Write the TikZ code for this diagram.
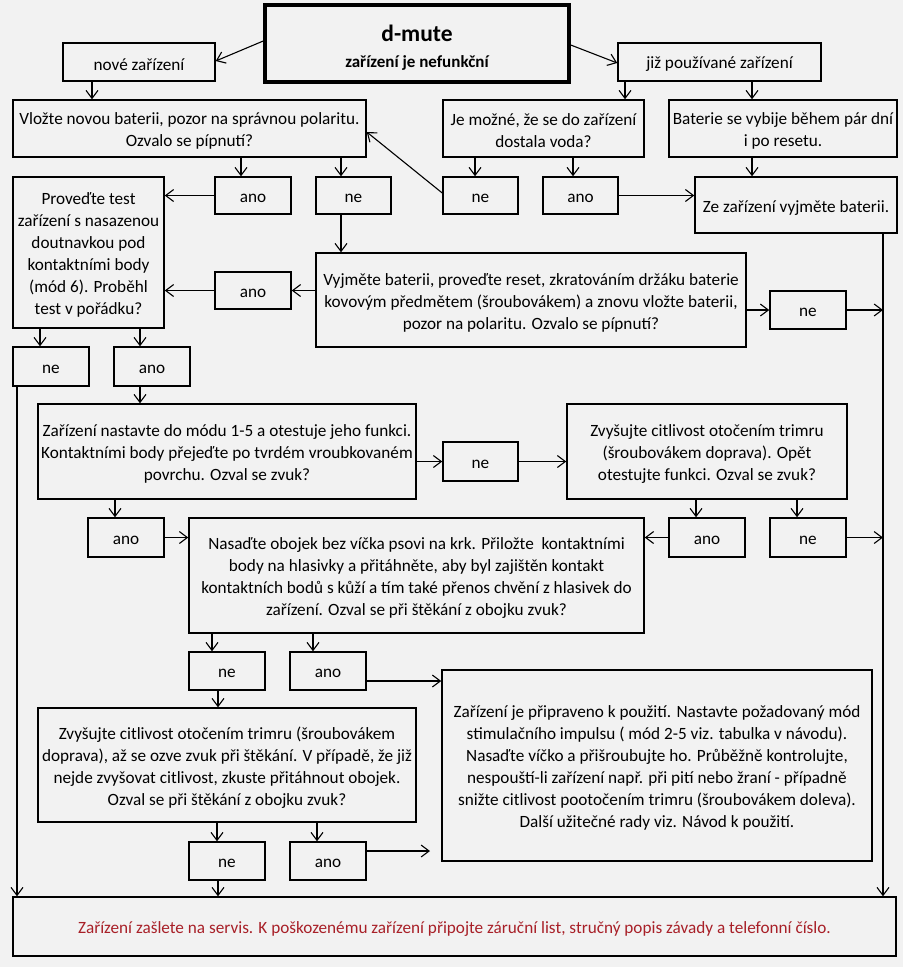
\documentclass[tikz,border=0pt]{standalone}
\usepackage{fontspec}
\setmainfont{Carlito}
\usetikzlibrary{arrows.meta,calc}
\definecolor{bg}{RGB}{242,242,242}
\definecolor{servisred}{RGB}{168,32,40}
\newcommand\bx[7][]{\node[box,#1,minimum width={(#5-#3)*1pt},minimum height={(#6-#4)*1pt}] (#2) at ({(#3+#5)/2},{(#4+#6)/2}) {};
  \node[boxtext] (#2t) at ([yshift=-2.5pt]#2.center) {#7};}
\newcommand\vconn[3]{\draw[arr] (#1.south -| #3,0) -- (#2.north -| #3,0);}
\begin{document}
\begin{tikzpicture}[x=1pt,y=-1pt,
  box/.style={draw, line width=1.5pt, inner sep=0pt},
  boxtext/.style={inner sep=0pt, align=center, font=\fontsize{17.2}{22}\selectfont},
  arr/.style={line width=1.1pt, -{Straight Barb[length=8pt,width=12pt,line width=1.1pt]}}]
\fill[bg] (0,0) rectangle (903,967);
\useasboundingbox (0,0) rectangle (903,967);

\node[box, line width=3.5pt, minimum width=304pt, minimum height=77pt] (title) at (417,43.5) {};
\node[boxtext] (titlet) at ([yshift=-4pt]title.center) {{\fontsize{23.5}{27}\selectfont\bfseries d-mute}\\[4pt]{\fontsize{17}{20}\selectfont\bfseries zařízení je nefunkční}};
\bx{nove}{63}{43}{215}{81}{nové zařízení}
\bx{jiz}{618}{43}{821}{81}{již používané zařízení}
\bx{vlozte}{13}{100}{366}{157}{Vložte novou baterii, pozor na správnou polaritu.\\Ozvalo se pípnutí?}
\bx{jemozne}{443}{100}{644}{157}{Je možné, že se do zařízení\\dostala voda?}
\bx{baterie}{669}{100}{897}{157}{Baterie se vybije během pár dní\\i po resetu.}
\bx{ano1}{215}{177}{291}{214}{ano}
\bx{ne1}{316}{177}{391}{214}{ne}
\bx{ne2}{443}{177}{518}{214}{ne}
\bx{ano2}{543}{177}{618}{214}{ano}
\bx{ze}{695}{177}{897}{233}{Ze zařízení vyjměte baterii.}
\bx{proved}{13}{177}{164}{328}{Proveďte test\\zařízení s nasazenou\\doutnavkou pod\\kontaktními body\\(mód 6). Proběhl\\test v pořádku?}
\bx{vyjmete}{316}{253}{746}{347}{Vyjměte baterii, proveďte reset, zkratováním držáku baterie\\kovovým předmětem (šroubovákem) a znovu vložte baterii,\\pozor na polaritu. Ozvalo se pípnutí?}
\bx{ano3}{215}{272}{291}{309}{ano}
\bx{ne4}{770}{291}{846}{329}{ne}
\bx{ne3}{13}{347}{89}{386}{ne}
\bx{ano4}{114}{347}{190}{386}{ano}
\bx{nastavte}{38}{404}{416}{499}{Zařízení nastavte do módu 1-5 a otestuje jeho funkci.\\Kontaktními body přejeďte po tvrdém vroubkovaném\\povrchu. Ozval se zvuk?}
\bx{ne5}{443}{442}{518}{481}{ne}
\bx{zvys1}{567}{404}{847}{499}{Zvyšujte citlivost otočením trimru\\(šroubovákem doprava). Opět\\otestujte funkci. Ozval se zvuk?}
\bx{ano5}{88}{518}{164}{557}{ano}
\bx{nasadte}{189}{518}{644}{633}{Nasaďte obojek bez víčka psovi na krk. Přiložte \ kontaktními\\body na hlasivky a přitáhněte, aby byl zajištěn kontakt\\kontaktních bodů s kůží a tím také přenos chvění z hlasivek do\\zařízení. Ozval se při štěkání z obojku zvuk?}
\bx{ano6}{669}{518}{745}{557}{ano}
\bx{ne6}{770}{518}{846}{557}{ne}
\bx{ne7}{189}{652}{265}{690}{ne}
\bx{ano7}{290}{652}{366}{690}{ano}
\bx{pripr}{442}{670}{872}{861}{Zařízení je připraveno k použití. Nastavte požadovaný mód\\stimulačního impulsu ( mód 2-5 viz. tabulka v návodu).\\Nasaďte víčko a přišroubujte ho. Průběžně kontrolujte,\\nespouští-li zařízení např. při pití nebo žraní - případně\\snižte citlivost pootočením trimru (šroubovákem doleva).\\Další užitečné rady viz. Návod k použití.}
\bx{zvys2}{38}{708}{416}{822}{Zvyšujte citlivost otočením trimru (šroubovákem\\doprava), až se ozve zvuk při štěkání. V případě, že již\\nejde zvyšovat citlivost, zkuste přitáhnout obojek.\\Ozval se při štěkání z obojku zvuk?}
\bx{ne8}{189}{842}{265}{880}{ne}
\bx{ano8}{290}{842}{366}{880}{ano}
\bx{servis}{13}{897}{896}{956}{\color{servisred}Zařízení zašlete na servis. K poškozenému zařízení připojte záruční list, stručný popis závady a telefonní číslo.}

% connectors
\draw[arr] (title.west |- 0,41) -- (nove.east |- 0,61);
\draw[arr] (title.east |- 0,45) -- (jiz.west |- 0,63);
\vconn{nove}{vlozte}{92}
\vconn{jiz}{jemozne}{625}
\vconn{jiz}{baterie}{752}
\vconn{vlozte}{ano1}{241}
\vconn{vlozte}{ne1}{341}
\vconn{jemozne}{ne2}{475}
\vconn{jemozne}{ano2}{573}
\vconn{baterie}{ze}{752}
\vconn{ne1}{vyjmete}{341}
\vconn{proved}{ne3}{40}
\vconn{proved}{ano4}{140}
\vconn{ano4}{nastavte}{140}
\vconn{nastavte}{ano5}{115}
\vconn{zvys1}{ano6}{696}
\vconn{zvys1}{ne6}{797}
\vconn{nasadte}{ne7}{212}
\vconn{nasadte}{ano7}{313}
\vconn{ne7}{zvys2}{218}
\vconn{zvys2}{ne8}{217}
\vconn{zvys2}{ano8}{317}
\vconn{ne8}{servis}{218}
\vconn{ne3}{servis}{17}
\vconn{ze}{servis}{883}

\draw[arr] (ano1.west) -- (proved.east |- ano1.west);
\draw[arr] (ano2.east) -- (ze.west |- ano2.east);
\draw[arr] (ne2.west |- 0,193) -- (vlozte.east |- 0,132);
\draw[arr] (vyjmete.west |- ano3.east) -- (ano3.east);
\draw[arr] (ano3.west) -- (proved.east |- ano3.west);
\draw[arr] (vyjmete.east |- ne4.west) -- (ne4.west);
\draw[arr] (ne4.east) -- (ne4.east -| 883,0);
\draw[arr] (nastavte.east |- ne5.west) -- (ne5.west);
\draw[arr] (ne5.east) -- (zvys1.west |- ne5.east);
\draw[arr] (ano5.east) -- (nasadte.west |- ano5.east);
\draw[arr] (ano6.west) -- (nasadte.east |- ano6.west);
\draw[arr] (ne6.east) -- (ne6.east -| 883,0);
\draw[arr] (ano7.east |- 0,681) -- (pripr.west |- 0,681);
\coordinate (p8) at (430,851);
\draw[arr] (ano8.east |- p8) -- (p8);
\end{tikzpicture}
\end{document}
